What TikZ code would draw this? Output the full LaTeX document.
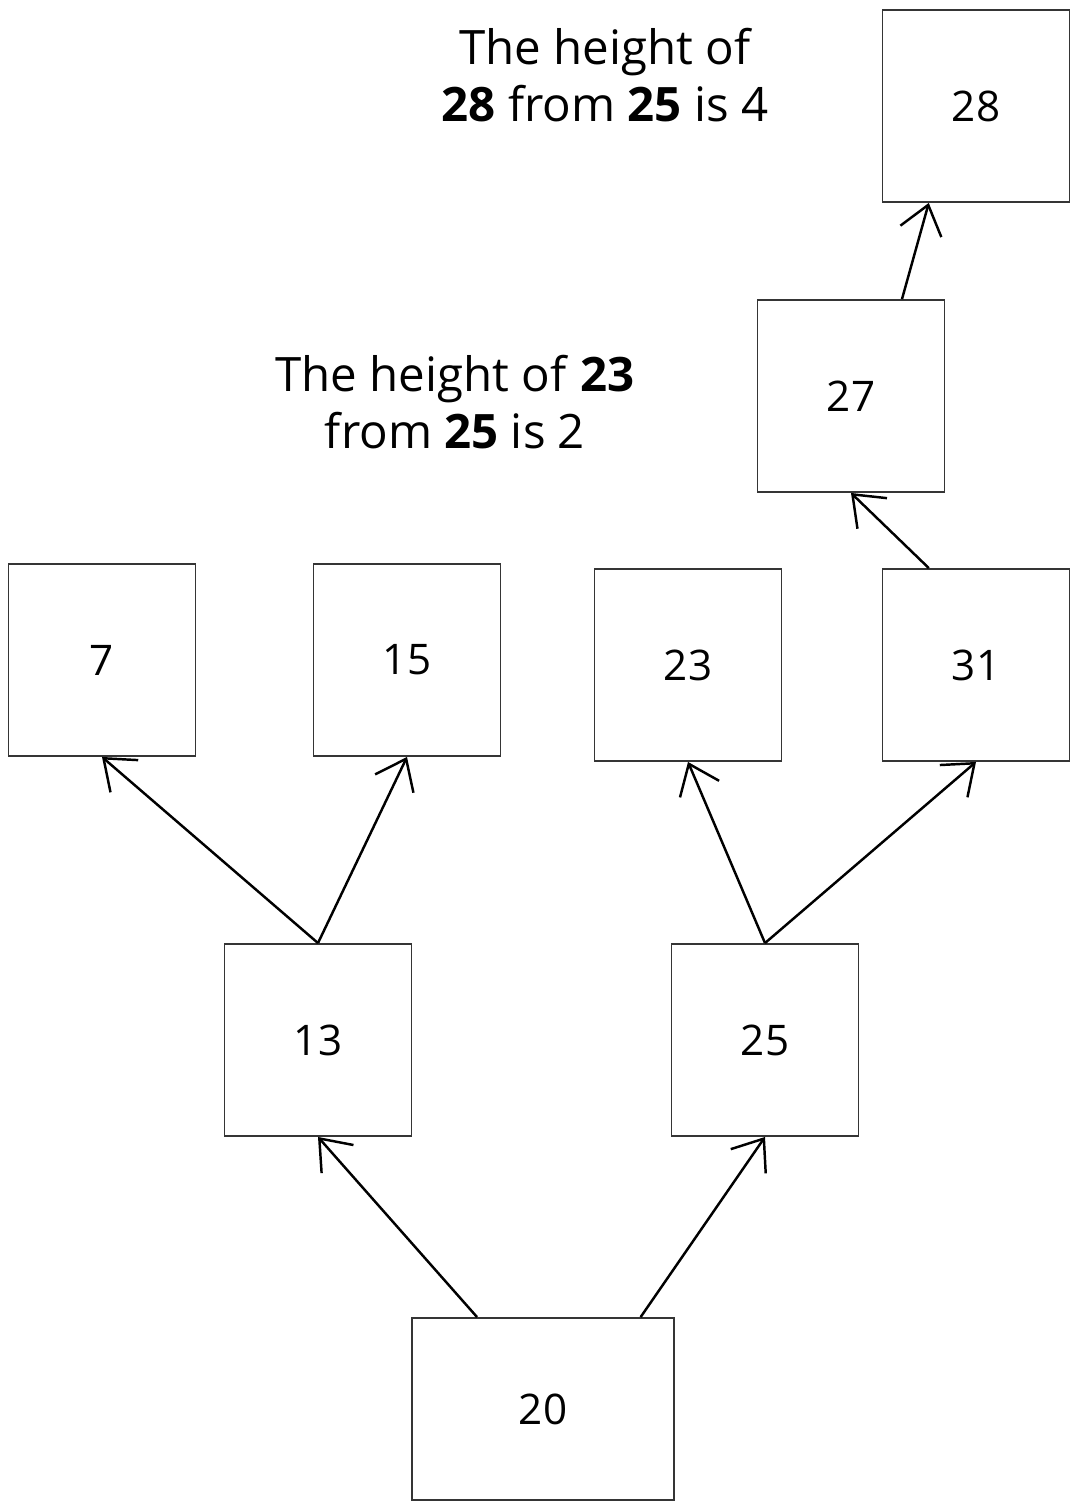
\documentclass[tikz,border=0pt]{standalone}
\usepackage{fontspec}
\setmainfont{Open Sans}
\usepackage{tikz}
\usetikzlibrary{positioning}
\usetikzlibrary{calc}
\usetikzlibrary{arrows.meta}
\definecolor{ink}{HTML}{1E1E1E}
\tikzset{every picture/.style={x=0.02cm,y=-0.02cm,line width=1.1pt},
  box/.style={draw=ink!90,minimum width=3.74cm,minimum height=3.84cm,inner sep=0pt,font=\fontsize{24}{28}\selectfont},
  link/.style={draw=black,line width=1.4pt,-{Straight Barb[length=0.55cm,width=0.85cm,line width=1.4pt]}},
  note/.style={align=center,font=\fontsize{27}{32}\selectfont}}
\begin{document}
\begin{tikzpicture}
\useasboundingbox (0,0) rectangle (1078,1512);
\node[box] (n28) at (976,106) {28};
\node[box] (n27) at (851,396) {27};
\node[box] (n7) at (102,660) {7};
\node[box] (n15) at (407,660) {15};
\node[box] (n23) at (688,665) {23};
\node[box] (n31) at (976,665) {31};
\node[box] (n13) at (318,1040) {13};
\node[box] (n25) at (765,1040) {25};
\node[box,minimum width=5.24cm,minimum height=3.64cm] (n20) at (543,1409) {20};
\node[note] (h28) at (605,75) {The height of\\\textbf{28} from \textbf{25} is 4};
\node[note] (h23) at (455,402) {The height of \textbf{23}\\from \textbf{25} is 2};
\draw[link] ($(n20.north west)!0.25!(n20.north east)$) -- (n13.south);
\draw[link] ($(n20.north west)!0.87!(n20.north east)$) -- (n25.south);
\draw[link] (n13.north) -- (n7.south);
\draw[link] (n13.north) -- (n15.south);
\draw[link] (n25.north) -- (n23.south);
\draw[link] (n25.north) -- (n31.south);
\draw[link] ($(n31.north west)!0.25!(n31.north east)$) -- (n27.south);
\draw[link] ($(n27.north west)!0.77!(n27.north east)$) -- ($(n28.south west)!0.25!(n28.south east)$);
\end{tikzpicture}
\end{document}
